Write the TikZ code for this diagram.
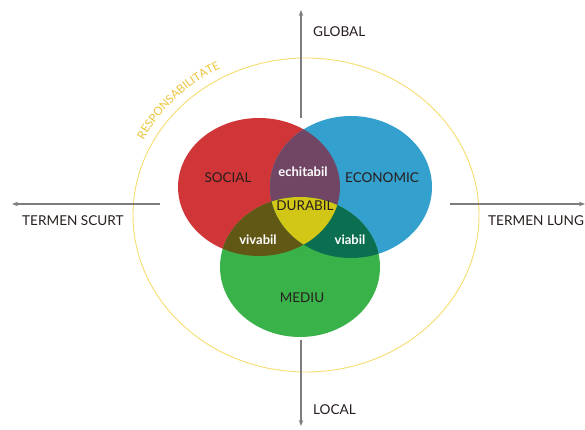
\documentclass[tikz,border=0pt]{standalone}
\usepackage{fontspec}
\setmainfont{Lato}
\usetikzlibrary{arrows.meta,decorations.text}
\definecolor{cred}{RGB}{208,54,56}
\definecolor{cblue}{RGB}{52,160,205}
\definecolor{cgreen}{RGB}{58,178,74}
\definecolor{cpurple}{RGB}{112,70,100}
\definecolor{colive}{RGB}{98,88,22}
\definecolor{cteal}{RGB}{12,110,80}
\definecolor{cyellow}{RGB}{210,198,22}
\definecolor{cring}{RGB}{246,220,110}
\definecolor{cresp}{RGB}{236,196,60}
\definecolor{caxis}{RGB}{125,125,125}
\definecolor{ctext}{RGB}{40,30,30}
\tikzset{
  axisline/.style={draw=caxis, line width=1.1pt, -{Stealth[length=6pt,width=4.5pt]}},
  outlabel/.style={anchor=west, inner sep=0pt, text=ctext, font=\fontsize{13.6}{15}\selectfont},
  setlabel/.style={inner sep=0pt, text=ctext, font=\fontsize{13.5}{15}\selectfont},
  wlabel/.style={inner sep=0pt, text=white, font=\bfseries\fontsize{13}{15}\selectfont},
}
\begin{document}
\begin{tikzpicture}[x=1pt,y=1pt]
\useasboundingbox (0,0) rectangle (585,430);
% responsibility ring
\draw[cring, line width=0.9pt] (306,215) ellipse [x radius=173pt, y radius=157pt];
\path[decorate, decoration={text along path, text align=center,
   text={|\fontsize{11.5}{13}\selectfont\color{cresp}|RESPONSABILITATE}}]
   (306,215) ++(165:182pt and 166pt) arc [start angle=165, end angle=107, x radius=182pt, y radius=166pt];
% sets
\def\redE{(259,243) ellipse [x radius=81pt, y radius=69pt]}
\def\blueE{(351,243) ellipse [x radius=81pt, y radius=71pt]}
\def\greenE{(300,163) ellipse [x radius=80pt, y radius=70pt]}
\fill[cred] \redE;
\fill[cblue] \blueE;
\fill[cgreen] \greenE;
\begin{scope}\clip \redE; \fill[cpurple] \blueE; \end{scope}
\begin{scope}\clip \redE; \fill[colive] \greenE; \end{scope}
\begin{scope}\clip \blueE; \fill[cteal] \greenE; \end{scope}
\begin{scope}\clip \redE; \clip \blueE; \fill[cyellow] \greenE; \end{scope}
% labels in sets
\node[setlabel] (social) at (228,252) {SOCIAL};
\node[setlabel] (economic) at (382,252) {ECONOMIC};
\node[setlabel] (mediu) at (302,132) {MEDIU};
\node[setlabel] (durabil) at (305,224) {DURABIL};
\node[wlabel] (echitabil) at (303,258) {echitabil};
\node[wlabel] (vivabil) at (258,190) {vivabil};
\node[wlabel] (viabil) at (350,190) {viabil};
% axes
\coordinate (topS) at (301,312);
\coordinate (topE) at (301,420);
\coordinate (botS) at (301,90);
\coordinate (botE) at (301,4);
\coordinate (leftS) at (160,226);
\coordinate (leftE) at (12,226);
\coordinate (rightS) at (450,226);
\coordinate (rightE) at (585,226);
\draw[axisline] (topS) -- (topE);
\draw[axisline] (botS) -- (botE);
\draw[axisline] (leftS) -- (leftE);
\draw[axisline] (rightS) -- (rightE);
\node[outlabel] (global) at (313,398) {GLOBAL};
\node[outlabel] (local) at (313,20) {LOCAL};
\node[outlabel] (scurt) at (22,209) {TERMEN SCURT};
\node[outlabel] (lung) at (488,209) {TERMEN LUNG};
\end{tikzpicture}
\end{document}
